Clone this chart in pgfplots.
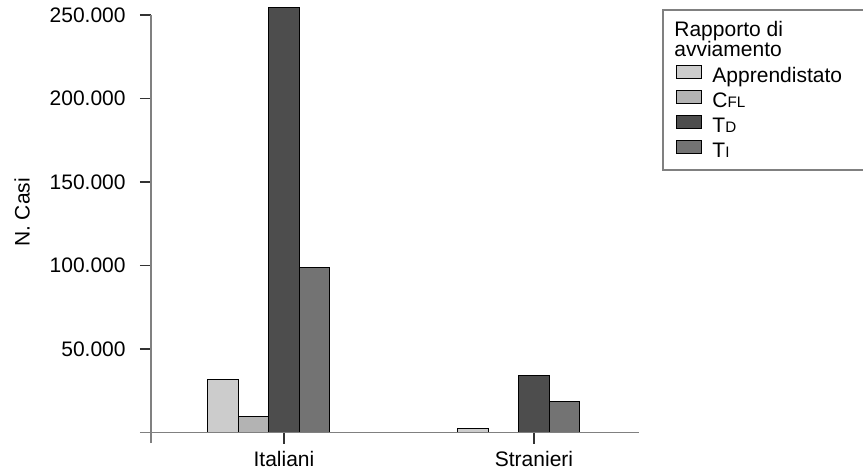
\documentclass[border=0pt]{standalone}
\usepackage{fontspec}
\setmainfont{Liberation Sans}
\usepackage{pgfplots}
\pgfplotsset{compat=1.18}
\definecolor{cA}{HTML}{CCCCCC}
\definecolor{cB}{HTML}{B3B3B3}
\definecolor{cC}{HTML}{4D4D4D}
\definecolor{cD}{HTML}{737373}
\definecolor{axgray}{HTML}{808080}
\pgfplotsset{
  mylegend/.style={legend image code/.code={\draw[##1,/tikz/.cd,line width=0.5pt,draw=black] (0pt,0pt) rectangle (12.5pt,6.25pt);}},
}
\newcommand{\smc}[1]{{\fontsize{7.6}{8}\selectfont #1}}
\begin{document}
\fontsize{10.5}{12.6}\selectfont
\begin{tikzpicture}
\useasboundingbox (-75.5pt,-19.75pt) rectangle (356pt,216.25pt);
\begin{axis}[
  at={(0pt,0pt)}, anchor=south west,
  scale only axis, width=244pt, height=208.75pt,
  xmin=-0.532, xmax=1.42, ymin=0, ymax=250000,
  clip=false,
  axis lines=left, axis line style={draw=none},
  tick align=outside, major tick length=5.5pt,
  tick style={line width=0.75pt, color=black!80},
  xtick={0,1}, xticklabels={Italiani,Stranieri},
  ytick={50000,100000,150000,200000,250000},
  scaled y ticks=false,
  y tick label style={/pgf/number format/.cd, fixed, 1000 sep={.}, /tikz/.cd, xshift=-3.5pt},
  /pgf/number format/assume math mode=true,
  tick label style={font=\fontsize{10.5}{12.6}\selectfont},
  label style={font=\fontsize{10.5}{12.6}\selectfont},
  ylabel={N. Casi},
  ylabel style={at={(axis description cs:-0.2643,0.527)}, anchor=center},
  legend cell align=left,
  legend style={draw=none, fill=none, at={(1.0768,0.8802)}, anchor=north west,
    inner sep=0pt, outer sep=0pt, row sep=0pt, column sep=5pt,
    font=\fontsize{10.5}{12.6}\selectfont,
    nodes={inner sep=0pt, outer sep=0pt, text height=8pt, text depth=4pt}},
]
\addplot[ybar, bar width=0.122, fill=cA, draw=black, line width=0.5pt, mylegend]
  coordinates {(-0.244,32000) (0.756,2300)};
\addlegendentry{Apprendistato}
\addplot[ybar, bar width=0.122, fill=cB, draw=black, line width=0.5pt, mylegend]
  coordinates {(-0.122,9300) (0.878,0)};
\addlegendentry{C\smc{FL}}
\addplot[ybar, bar width=0.122, fill=cC, draw=black, line width=0.5pt, mylegend]
  coordinates {(0,254200) (1,34400)};
\addlegendentry{T\smc{D}}
\addplot[ybar, bar width=0.122, fill=cD, draw=black, line width=0.5pt, mylegend]
  coordinates {(0.122,98700) (1.122,18300)};
\addlegendentry{T\smc{I}}
\draw[axgray, line width=0.8pt] (axis cs:-0.576,0) -- (axis cs:1.42,0);
\draw[axgray, line width=0.8pt] (axis cs:-0.532,-6287) -- (axis cs:-0.532,250000);
\end{axis}
\draw[axgray, line width=0.8pt] (256pt,131.25pt) rectangle (380pt,211.25pt);
\node[anchor=base west, inner sep=0pt] at (261.5pt,197.9pt) {Rapporto di};
\node[anchor=base west, inner sep=0pt] at (261.5pt,187.9pt) {avviamento};
\end{tikzpicture}
\end{document}
